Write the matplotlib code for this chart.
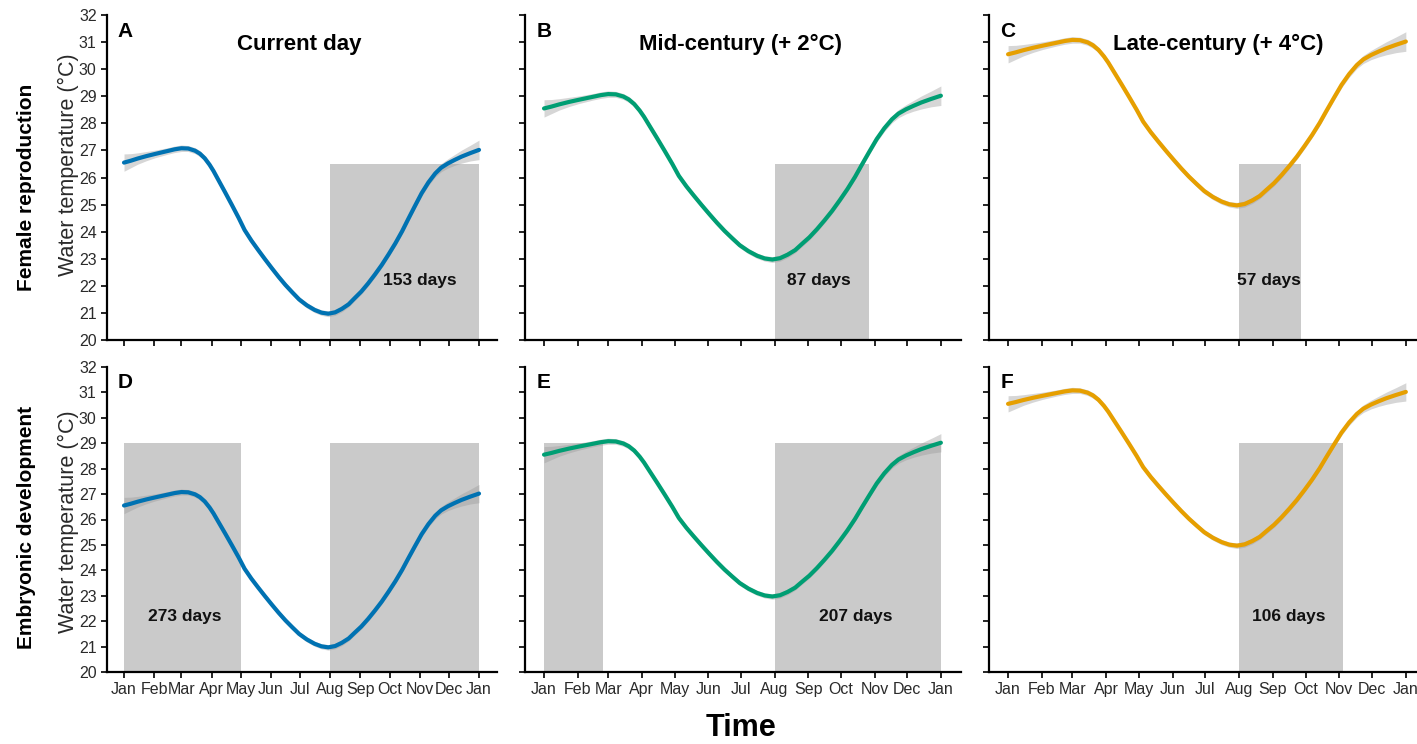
import numpy as np
import matplotlib
matplotlib.use("Agg")
import matplotlib.pyplot as plt

plt.rcParams['font.family'] = ['Liberation Sans', 'DejaVu Sans']

# ---- data ----
month_days = [0, 31, 59, 90, 120, 151, 181, 212, 243, 273, 304, 334, 365]
month_labels = ['Jan', 'Feb', 'Mar', 'Apr', 'May', 'Jun', 'Jul', 'Aug',
                'Sep', 'Oct', 'Nov', 'Dec', 'Jan']

# smoothed water temperature, current day
day = [0, 7, 14, 23, 32, 45, 52, 59, 66, 73, 78, 83, 88, 92, 97, 104, 111,
       118, 124, 131, 138, 145, 152, 159, 166, 173, 180, 188, 196, 203, 210,
       217, 224, 231, 237, 244, 251, 258, 265, 272, 279, 286, 292, 299, 306,
       313, 320, 326, 333, 340, 347, 356, 365]
temp_now = [26.55, 26.62, 26.70, 26.79, 26.87, 26.98, 27.04, 27.08, 27.07,
            26.99, 26.88, 26.71, 26.47, 26.24, 25.91, 25.45, 24.98, 24.50,
            24.06, 23.67, 23.32, 22.98, 22.65, 22.33, 22.03, 21.76, 21.50,
            21.28, 21.11, 21.01, 20.97, 21.02, 21.15, 21.32, 21.54, 21.79,
            22.09, 22.42, 22.77, 23.16, 23.57, 24.02, 24.45, 24.94, 25.42,
            25.82, 26.15, 26.36, 26.52, 26.65, 26.77, 26.90, 27.02]
# half width of the confidence ribbon
ci_half = [0.32, 0.26, 0.21, 0.17, 0.14, 0.12, 0.12, 0.12, 0.11, 0.11, 0.11,
           0.10, 0.10, 0.10, 0.10, 0.10, 0.10, 0.10, 0.10, 0.10, 0.10, 0.10,
           0.10, 0.10, 0.10, 0.10, 0.10, 0.10, 0.10, 0.10, 0.11, 0.11, 0.11,
           0.10, 0.10, 0.10, 0.10, 0.10, 0.10, 0.10, 0.10, 0.10, 0.10, 0.10,
           0.11, 0.12, 0.13, 0.15, 0.17, 0.20, 0.24, 0.29, 0.36]

scenarios = ['Current day', 'Mid-century (+ 2°C)', 'Late-century (+ 4°C)']
warming = [0, 2, 4]
line_colors = ['#0072B2', '#009E73', '#E69F00']

row_names = ['Female reproduction', 'Embryonic development']
thresholds = [26.5, 29.0]
windows = [
    [[(212, 365)], [(212, 299)], [(212, 269)]],
    [[(0, 120), (212, 365)], [(0, 54), (212, 365)], [(212, 307)]],
]
n_days = [[153, 87, 57], [273, 207, 106]]
letters = [['A', 'B', 'C'], ['D', 'E', 'F']]

# ---- layout (pixels in a 1417x744 figure) ----
W, H = 1417, 744
col_px = [(107, 390), (525, 436), (989, 437)]
row_px = [(15, 325), (367, 305)]
text_x = [[304, 253, 239], [62, 287, 258]]
title_x = [180, 181, 193]

fig = plt.figure(figsize=(W / 100, H / 100), dpi=100)

d = np.array(day)
base = np.array(temp_now)
ci = np.array(ci_half)

for r in range(2):
    top, h = row_px[r]
    for c in range(3):
        left, w = col_px[c]
        ax = fig.add_axes([left / W, 1 - (top + h) / H, w / W, h / H])
        for s, e in windows[r][c]:
            ax.fill_between([s, e], 20, thresholds[r], color='#cacaca', lw=0, zorder=1)
        y = base + warming[c]
        ax.fill_between(d, y - ci, y + ci, color='#999999', alpha=0.4, lw=0, zorder=2)
        ax.plot(d, y, color=line_colors[c], lw=3, solid_capstyle='round',
                solid_joinstyle='round', zorder=3)
        ax.text(text_x[r][c], 22.2, f'{n_days[r][c]} days', ha='center', va='center',
                fontsize=12.5, fontweight='bold', color='#111111', zorder=4)
        ax.text(0.026, 0.95, letters[r][c], transform=ax.transAxes, ha='left',
                va='center', fontsize=15, fontweight='bold')
        if r == 0:
            ax.text(title_x[c], 30.9, scenarios[c], ha='center', va='center',
                    fontsize=16, fontweight='bold')

        ax.set_xlim(-17.5, 383.5)
        ax.set_ylim(20, 32)
        ax.set_yticks(range(20, 33))
        ax.set_xticks(month_days)
        for side in ['top', 'right']:
            ax.spines[side].set_visible(False)
        for side in ['left', 'bottom']:
            ax.spines[side].set_linewidth(1.6)
        ax.tick_params(direction='out', length=4.5, width=1.2, labelsize=11.5,
                       colors='black', labelcolor='#2a2a2a', pad=3)
        ax.set_xticklabels(month_labels if r == 1 else [])
        if c > 0:
            ax.set_yticklabels([])

    fig.text(68 / W, 1 - [165, 522][r] / H, 'Water temperature (°C)', rotation=90,
             ha='center', va='center', fontsize=15.5, color='#2a2a2a')
    fig.text(27 / W, 1 - [187, 527][r] / H, row_names[r], rotation=90,
             ha='center', va='center', fontsize=15, fontweight='bold')

fig.text(741 / W, 1 - 728 / H, 'Time', ha='center', va='center',
         fontsize=22, fontweight='bold')

fig.savefig('out.png', dpi=100, facecolor='white')
